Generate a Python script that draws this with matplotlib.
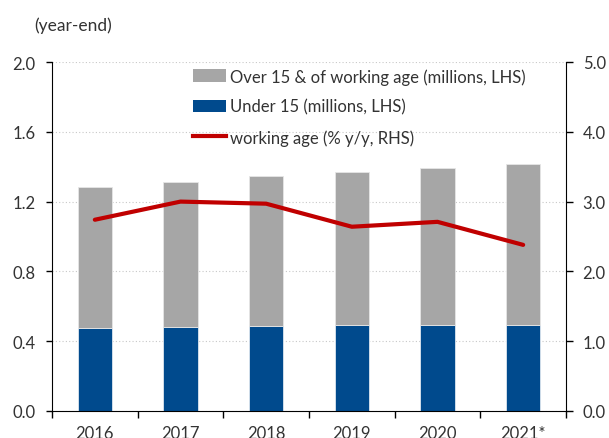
import numpy as np
import matplotlib
matplotlib.use("Agg")
import matplotlib.pyplot as plt
from matplotlib.patches import Patch
from matplotlib.lines import Line2D

plt.rcParams["font.family"] = ["Lato", "DejaVu Sans"]

# Data
years = ["2016", "2017", "2018", "2019", "2020", "2021*"]
total_pop = [1.284, 1.314, 1.345, 1.370, 1.393, 1.416]   # millions, LHS
under_15 = [0.476, 0.480, 0.487, 0.490, 0.492, 0.493]    # millions, LHS
working_age_yy = [2.74, 3.00, 2.97, 2.64, 2.71, 2.38]     # % y/y, RHS

over_15 = [t - u for t, u in zip(total_pop, under_15)]

grey = "#A6A6A6"
blue = "#004A8D"
red = "#C00000"
txt = "#333333"
fs = 12

fig = plt.figure(figsize=(6.09, 4.39), dpi=100)
ax = fig.add_axes([52 / 609, 1 - 412 / 439, 514 / 609, 349 / 439])
ax2 = ax.twinx()

x = np.arange(len(years))
w = 0.4
ax.bar(x, under_15, width=w, color=blue, edgecolor="#DDE6F0", linewidth=0.6, zorder=2)
ax.bar(x, over_15, width=w, bottom=under_15, color=grey, edgecolor="#E6E6E6",
       linewidth=0.6, zorder=2)
ax2.plot(x, working_age_yy, color=red, linewidth=3, solid_capstyle="round", zorder=3)

ax.set_xlim(-0.5, len(years) - 0.5)
ax.set_ylim(0, 2.0)
ax2.set_ylim(0, 5.0)
ax.set_yticks(np.arange(0, 2.01, 0.4))
ax.set_yticklabels([f"{v:.1f}" for v in np.arange(0, 2.01, 0.4)])
ax2.set_yticks(np.arange(0, 5.01, 1.0))
ax2.set_yticklabels([f"{v:.1f}" for v in np.arange(0, 5.01, 1.0)])

ax.yaxis.grid(True, linestyle=(0, (1, 2)), color="#C8C8C8", linewidth=0.8, zorder=0)
ax.set_axisbelow(True)

ax.set_xticks(x)
ax.set_xticklabels(years)
ax.set_xticks(np.arange(-0.5, len(years), 1.0), minor=True)
ax.tick_params(axis="x", which="major", length=0, pad=10, labelsize=fs, labelcolor=txt)
ax.tick_params(axis="x", which="minor", length=5, width=1, direction="out", color="black")
ax.tick_params(axis="y", length=4, width=1, direction="out", labelsize=fs,
               labelcolor=txt, pad=8)
ax2.tick_params(axis="y", length=5, width=1, direction="out", labelsize=fs,
                labelcolor=txt, pad=7)

for a in (ax, ax2):
    a.spines["top"].set_visible(False)
ax2.spines["left"].set_visible(False)
ax2.spines["bottom"].set_visible(False)
ax.spines["right"].set_visible(False)

handles = [
    Patch(facecolor=grey, edgecolor="none"),
    Patch(facecolor=blue, edgecolor="none"),
    Line2D([0], [0], color=red, linewidth=3),
]
labels = [
    "Over 15 & of working age (millions, LHS)",
    "Under 15 (millions, LHS)",
    "working age (% y/y, RHS)",
]
leg = ax2.legend(handles, labels, loc="upper left",
                 bbox_to_anchor=(193 / 609, 1 - 69 / 439), bbox_transform=fig.transFigure,
                 frameon=False, fontsize=fs, handlelength=2.0, handleheight=0.8,
                 handletextpad=0.25, labelspacing=0.85, borderaxespad=0, borderpad=0)
for t in leg.get_texts():
    t.set_color(txt)

fig.text(34 / 609, 1 - 26 / 439, "(year-end)", fontsize=12.5, color=txt, va="center")

fig.savefig("out.png", dpi=100)
